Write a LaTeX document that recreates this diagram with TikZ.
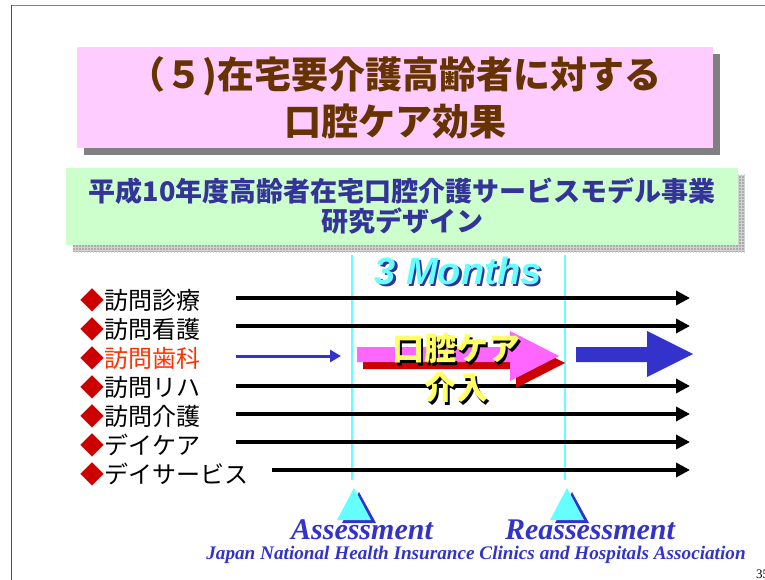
\documentclass[tikz,border=0pt]{standalone}
\usepackage{fontspec}
\setmainfont{Liberation Serif}
\newfontfamily\jp{Noto Sans CJK JP}
\newfontfamily\arialf{Liberation Sans}
\usetikzlibrary{arrows.meta,patterns}
\definecolor{pinkbox}{HTML}{FFCCFF}
\definecolor{greenbox}{HTML}{CCFFCC}
\definecolor{brownt}{HTML}{663300}
\definecolor{navyt}{HTML}{333399}
\definecolor{bluea}{HTML}{3333CC}
\definecolor{cyanl}{HTML}{66FFFF}
\definecolor{redd}{HTML}{CC0000}
\definecolor{orangered}{HTML}{FF3300}
\definecolor{pinka}{HTML}{FF66FF}
\definecolor{yellowt}{HTML}{FFFF66}
\newcommand{\shadowtext}[3]{\rlap{\kern2.5pt\raisebox{-2.5pt}{\textcolor{#1}{#3}}}\textcolor{#2}{#3}}
\begin{document}
\begin{tikzpicture}[x=1pt,y=-1pt,
  rowlabel/.style={anchor=west,inner sep=0pt,font=\jp\fontsize{24}{24}\selectfont},
  blkarrow/.style={line width=4pt,-{Triangle[length=14pt,width=14pt]}},
  cyanline/.style={cyanl,line width=2.5pt},
  tri/.style={fill=cyanl},
  trishadow/.style={fill=bluea},
  caretext/.style={font=\jp\bfseries\fontsize{32}{32}\selectfont,inner sep=0pt},
  engl/.style={font=\bfseries\itshape\fontsize{30}{30}\selectfont,text=bluea}
]
\useasboundingbox (0,0) rectangle (765,580);
% frame
\draw[gray,line width=1pt] (11,5.5) -- (765,5.5);
\draw[gray!60!black,line width=1pt] (11.5,5) -- (11.5,580);
% title box
\fill[gray] (84,54) rectangle (720,155);
\node[fill=pinkbox,minimum width=636pt,minimum height=101pt,inner sep=0pt,align=center,
  font=\jp\bfseries\fontsize{37}{47}\selectfont,text=brownt] (title) at (395,97.5)
  {（５)在宅要介護高齢者に対する\\口腔ケア効果};
% green box
\fill[gray!65] (73,175) rectangle (745,252);
\fill[pattern=grid,pattern color=gray!35] (73,175) rectangle (745,252);
\node[fill=greenbox,minimum width=672pt,minimum height=77pt,inner sep=0pt,align=center,
  font=\jp\bfseries\fontsize{27}{30}\selectfont,text=navyt] (sub) at (402,206.5)
  {平成10年度高齢者在宅口腔介護サービスモデル事業\\研究デザイン};
% cyan lines
\coordinate (c1t) at (352,255); \coordinate (c1b) at (352,480);
\coordinate (c2t) at (565,255); \coordinate (c2b) at (565,480);
\draw[cyanline] (c1t) -- (c1b);
\draw[cyanline] (c2t) -- (c2b);
% 3 Months
\node[font=\arialf\bfseries\itshape\fontsize{38}{38}\selectfont,inner sep=0pt] (months) at (458,272) {\shadowtext{navyt}{cyanl}{3 Months}};
% row labels
\node[rowlabel] (r1) at (80,300) {\textcolor{redd}{◆}訪問診療};
\node[rowlabel] (r2) at (80,329) {\textcolor{redd}{◆}訪問看護};
\node[rowlabel] (r3) at (80,358) {\textcolor{redd}{◆}\textcolor{orangered}{訪問歯科}};
\node[rowlabel] (r4) at (80,387) {\textcolor{redd}{◆}訪問リハ};
\node[rowlabel] (r5) at (80,416) {\textcolor{redd}{◆}訪問介護};
\node[rowlabel] (r6) at (80,445) {\textcolor{redd}{◆}デイケア};
\node[rowlabel] (r7) at (80,474) {\textcolor{redd}{◆}デイサービス};
% black arrows
\foreach \i/\y/\s in {1/298/236,2/326/236,4/386/236,5/414/236,6/442/236,7/470/272}{
  \coordinate (s\i) at (\s,\y); \coordinate (e\i) at (690,\y);
  \draw[blkarrow] (s\i) -- (e\i);
}
% blue thin arrow
\coordinate (s3) at (236,356); \coordinate (e3) at (341,356);
\draw[bluea,line width=3pt,-{Triangle[length=11pt,width=12pt]}] (s3) -- (e3);
% pink block arrow with red shadow
\fill[redd] (363,354) -- (516,354) -- (516,338) -- (565,363) -- (516,388) -- (516,369) -- (363,369) -- cycle;
\fill[pinka] (357,347) -- (510,347) -- (510,331) -- (559,356) -- (510,381) -- (510,362) -- (357,362) -- cycle;
% blue block arrow
\fill[bluea] (576,347) -- (647,347) -- (647,331) -- (693,354) -- (647,377) -- (647,362) -- (576,362) -- cycle;
% intervention text
\node[caretext] (care) at (456,350) {\shadowtext{black}{yellowt}{口腔ケア}};
\node[caretext] (kainyu) at (456,389) {\shadowtext{black}{yellowt}{介入}};
% triangles
\fill[trishadow] (359,492) -- (376,523) -- (342,523) -- cycle;
\fill[tri] (354,488) -- (371,520) -- (337,520) -- cycle;
\fill[trishadow] (572,492) -- (589,523) -- (555,523) -- cycle;
\fill[tri] (567,488) -- (584,520) -- (550,520) -- cycle;
% labels
\node[engl] (assess) at (362,530) {Assessment};
\node[engl] (reassess) at (590,530) {Reassessment};
\node[font=\bfseries\itshape\fontsize{19.2}{19.2}\selectfont,text=bluea] (footer) at (476,555) {Japan National Health Insurance Clinics and Hospitals Association};
\node[anchor=west,inner sep=0pt,font=\fontsize{13}{13}\selectfont] (pagenum) at (756,574) {35};
\end{tikzpicture}
\end{document}
